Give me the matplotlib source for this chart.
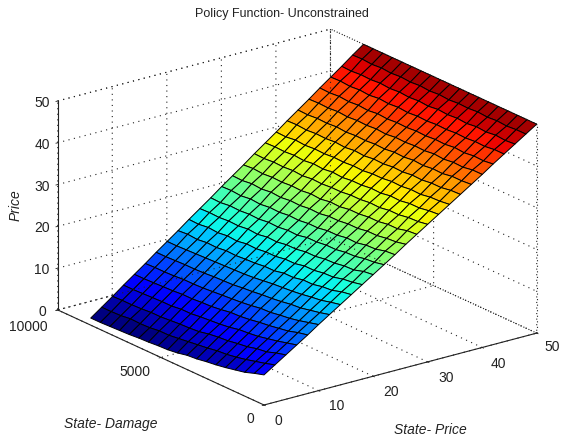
import matplotlib
matplotlib.use("Agg")
import numpy as np
import matplotlib.pyplot as plt
from matplotlib.transforms import ScaledTranslation
from mpl_toolkits.mplot3d import proj3d

plt.rcParams['font.family'] = ['Liberation Sans', 'DejaVu Sans']

state_price = [0,2,4,6,8,10,12,14,16,18,20,22,24,26,28,30,32,34,36,38,40,42,44,46,48,50]
state_damage = [0,467,933,1400,1867,2333,2800,3267,3733,4200,4667,5133,5600,6067,6533,7000,7467,7933,8400]
policy = [
[7.2,6.5,5.7,5.2,4.7,4.3,4.0,3.6,3.4,2.9,2.6,2.5,2.3,2.2,2.0,1.9,1.8,1.7,1.7],
[8.9,8.2,7.6,7.0,6.5,6.1,5.9,5.5,5.2,4.9,4.6,4.3,4.3,4.0,3.9,4.0,3.7,3.6,3.6],
[10.6,10.0,9.2,8.9,8.3,8.0,7.6,7.4,7.1,6.6,6.4,6.3,6.1,5.9,5.9,5.7,5.6,5.6,5.5],
[12.3,11.7,11.1,10.6,10.1,9.8,9.6,9.1,8.8,8.6,8.4,8.1,8.1,7.8,7.8,7.7,7.6,7.5,7.5],
[14.0,13.5,12.8,12.4,12.0,11.7,11.3,11.0,10.9,10.5,10.2,10.1,9.9,9.9,9.7,9.6,9.5,9.4,9.4],
[15.8,15.2,14.6,14.1,13.8,13.4,13.3,12.9,12.6,12.4,12.2,12.0,11.8,11.7,11.7,11.5,11.4,11.4,11.3],
[17.5,16.9,16.4,15.9,15.7,15.3,15.0,14.8,14.5,14.3,14.0,13.9,13.8,13.6,13.5,13.5,13.4,13.3,13.3],
[19.2,18.7,18.1,17.8,17.4,17.1,16.9,16.7,16.4,16.1,15.9,15.8,15.7,15.6,15.5,15.4,15.3,15.2,15.2],
[20.9,20.5,19.8,19.6,19.1,19.1,18.6,18.6,18.1,18.1,17.8,17.7,17.5,17.6,17.3,17.4,17.1,17.3,17.1],
[22.6,22.1,21.8,21.2,21.1,20.7,20.7,20.2,20.2,19.8,19.8,19.5,19.6,19.2,19.4,19.1,19.3,19.0,19.1],
[24.3,24.0,23.3,23.2,22.8,22.7,22.3,22.3,21.9,21.9,21.5,21.6,21.2,21.4,21.1,21.2,21.0,21.1,21.0],
[26.0,25.5,25.3,24.8,24.7,24.3,24.3,24.0,24.0,23.5,23.6,23.3,23.4,23.1,23.2,23.0,23.1,22.8,22.9],
[27.7,27.5,26.9,26.8,26.3,26.4,26.0,26.0,25.6,25.6,25.3,25.4,25.1,25.2,24.9,25.1,24.8,25.0,24.9],
[29.5,29.0,28.8,28.4,28.4,28.0,28.0,27.7,27.7,27.3,27.4,27.1,27.2,26.9,27.1,26.8,27.0,26.7,26.8],
[31.2,31.0,30.4,30.4,30.0,30.0,29.7,29.7,29.3,29.4,29.0,29.2,28.9,29.0,28.8,28.9,28.7,28.9,28.7],
[32.9,32.5,32.4,32.0,32.0,31.6,31.7,31.4,31.4,31.1,31.1,30.9,31.0,30.7,30.9,30.7,30.8,30.6,30.7],
[34.6,34.4,34.0,34.0,33.6,33.7,33.3,33.4,33.1,33.1,32.8,33.0,32.7,32.9,32.6,32.8,32.6,32.7,32.6],
[36.3,36.0,35.9,35.5,35.6,35.3,35.4,35.1,35.1,34.8,34.9,34.7,34.8,34.6,34.7,34.5,34.7,34.4,34.5],
[38.0,37.9,37.5,37.5,37.2,37.3,37.0,37.1,36.8,36.9,36.6,36.8,36.5,36.7,36.5,36.6,36.4,36.6,36.5],
[39.7,39.5,39.5,39.1,39.2,38.9,39.1,38.8,38.9,38.6,38.7,38.5,38.6,38.4,38.6,38.4,38.5,38.3,38.4],
[41.4,41.4,41.0,41.1,40.8,41.0,40.7,40.8,40.6,40.7,40.4,40.6,40.4,40.5,40.3,40.5,40.3,40.4,40.3],
[43.2,42.9,43.0,42.7,42.9,42.6,42.7,42.5,42.6,42.4,42.5,42.3,42.5,42.2,42.4,42.2,42.4,42.2,42.3],
[44.9,44.9,44.6,44.7,44.5,44.6,44.4,44.5,44.3,44.4,44.2,44.4,44.2,44.4,44.1,44.3,44.1,44.3,44.2],
[46.6,46.4,46.6,46.3,46.5,46.2,46.4,46.2,46.4,46.1,46.3,46.1,46.3,46.1,46.3,46.1,46.2,46.0,46.1],
[48.3,48.3,48.1,48.3,48.1,48.3,48.1,48.2,48.0,48.2,48.0,48.2,48.0,48.2,48.0,48.2,48.0,48.2,48.1],
[50,50,50,50,50,50,50,50,50,50,50,50,50,50,50,50,50,50,50],
]
x_ticks = [0,10,20,30,40,50]
y_ticks = [0,5000,10000]
z_ticks = [0,10,20,30,40,50]

W, H = 562, 442
fig = plt.figure(figsize=(W/100, H/100), dpi=100)
ax = fig.add_subplot(projection='3d', computed_zorder=False, proj_type='ortho')
ax.view_init(elev=20.4, azim=-127.1)
ax.set_box_aspect((1, 1, 0.652))
ax.set_xlim(0, 50, view_margin=0)
ax.set_ylim(0, 10000, view_margin=0)
ax.set_zlim(0, 50, view_margin=0)

# position the (square) axes so that the floor corners land where the reference has them
S0 = 300.0
ax.set_position([100 / W, 50 / H, S0 / W, S0 / H])
ax.apply_aspect()
M = ax.get_proj()
def px(x, y, z):
    a, b, _ = proj3d.proj_transform(x, y, z, M)
    return ax.transData.transform((float(a), float(b)))
p0 = px(0, 0, 0)
p1 = px(50, 0, 0)
p2 = px(0, 10000, 0)
k = (537 - 58) / (p1[0] - p2[0])
S = S0 * k
L = 264 - (p0[0] - 100) * k
B = (H - 405) - (p0[1] - 50) * k
ax.set_position([L / W, B / H, S / W, S / H])
ax.patch.set_alpha(0)

# walls and grid
INK = '#222222'
DOTS = (0, (1, 4))
for a in (ax.xaxis, ax.yaxis, ax.zaxis):
    a.set_pane_color((1, 1, 1, 0))
    a.pane.set_edgecolor((0, 0, 0, 0))
    a.line.set_color((0, 0, 0, 0))
    a._axinfo['grid'].update(color=INK, linestyle=DOTS, linewidth=0.8)
    a._axinfo['tick'].update(inward_factor=0.08, outward_factor=0.0)
    a._axinfo['tick']['linewidth'] = {True: 0.6, False: 0.6}
ax.set_xticks(x_ticks); ax.set_yticks(y_ticks); ax.set_zticks(z_ticks)
ax.tick_params(labelsize=10, colors=INK, pad=0)
ax.tick_params(axis='y', pad=2)

def nudge(axis, shifts):
    # Axis3D.get_major_ticks resets label transforms, so pin them after shifting
    for tick, (dx, dy) in zip(axis.get_major_ticks(), shifts):
        tick.label1.set_transform(ax.transData + ScaledTranslation(dx / 100, -dy / 100, fig.dpi_scale_trans))
        tick.label1.set_transform = lambda t: None

nudge(ax.xaxis, [(6, -4), (10, -4), (9, -4), (10, -3), (8, -3), (7, -6)])
nudge(ax.yaxis, [(0, -7), (-12, -7), (-15, -4)])
nudge(ax.zaxis, [(4, -4)] * 6)

Yg, Xg = np.meshgrid(state_damage, state_price)
Z = np.array(policy)
cmap = plt.get_cmap('jet', 64)
colors = cmap((Z - Z.min()) / (Z.max() - Z.min()))

# box edges
dot = dict(color=INK, linestyle=DOTS, linewidth=0.8)
ax.plot([50, 50], [10000, 10000], [0, 50], **dot)
ax.plot([0, 50], [10000, 10000], [50, 50], **dot)
ax.plot([50, 50], [0, 10000], [50, 50], **dot)
ax.plot([50, 50], [0, 0], [0, 50], **dot)
ax.plot([0, 50], [10000, 10000], [0, 0], **dot)
ax.plot([50, 50], [0, 10000], [0, 0], **dot)
solid = dict(color=INK, linewidth=0.8)
ax.plot([0, 50], [0, 0], [0, 0], **solid)
ax.plot([0, 0], [0, 10000], [0, 0], **solid)
ax.plot([0, 0], [10000, 10000], [0, 50], **solid)

ax.plot_surface(Xg, Yg, Z, facecolors=colors, rstride=1, cstride=1, shade=False,
                edgecolor='black', linewidth=0.7, antialiased=True)

fig.text(281.5/W, 1 - 14/H, 'Policy Function- Unconstrained', ha='center', va='center', fontsize=9, color=INK)
fig.text(16/W, 1 - 205/H, 'Price', rotation=90, style='italic', ha='center', va='center', fontsize=10, color=INK)
fig.text(111/W, 1 - 424/H, 'State- Damage', style='italic', ha='center', va='center', fontsize=10, color=INK)
fig.text(430/W, 1 - 430/H, 'State- Price', style='italic', ha='center', va='center', fontsize=10, color=INK)

fig.savefig('out.png', dpi=100)
